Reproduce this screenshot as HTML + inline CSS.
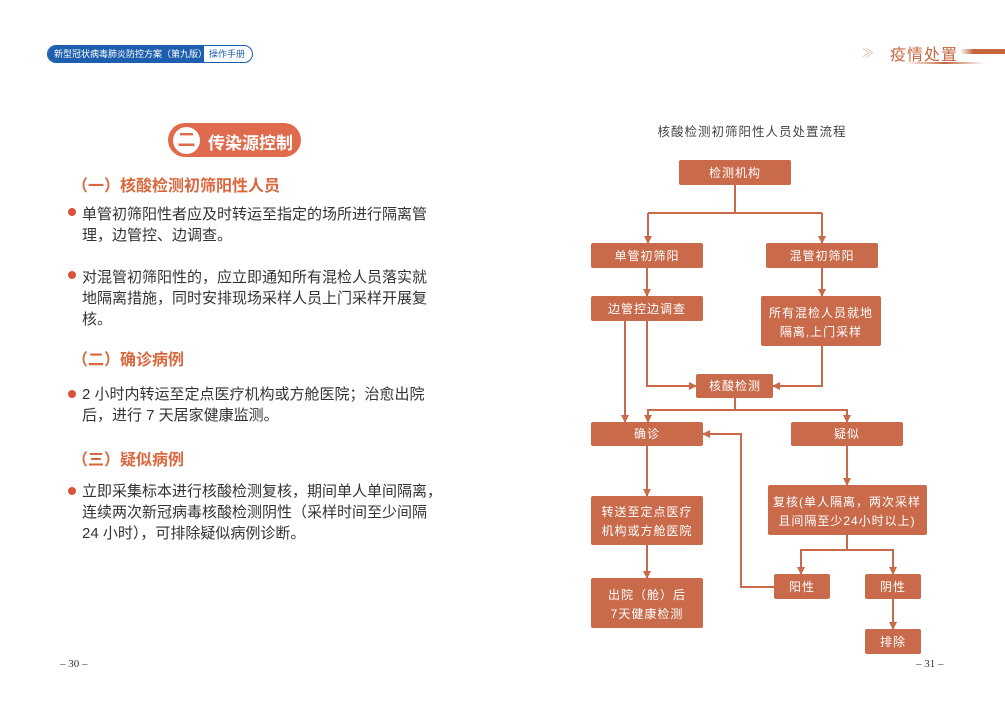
<!DOCTYPE html>
<html><head><meta charset="utf-8"><style>
body{margin:0;width:1005px;height:722px;background:#fff;position:relative;overflow:hidden;font-family:"Liberation Sans","Noto Sans CJK SC",sans-serif}
.a{position:absolute;white-space:nowrap}
.t{font-size:15px;color:#333;left:82px;letter-spacing:0}
.d{width:8px;height:8px;border-radius:50%;background:#d9533a;left:68px}
.h{font-size:16px;font-weight:bold;color:#d9683e;left:72px}
</style></head><body>
<div class="a" style="left:47px;top:45px;width:204px;height:16px;border:1px solid #1d5fae;border-radius:9px;overflow:hidden;font-size:9px;line-height:16px">
<span style="display:inline-block;background:#1d5fae;color:#fff;width:156px;padding-left:6px;box-sizing:border-box">新型冠状病毒肺炎防控方案（第九版）</span><span style="color:#1d5fae;padding-left:5px">操作手册</span></div>
<div class="a" style="left:862px;top:44px;font-size:12px;color:#e6b8a6">≫</div>
<div class="a" style="left:890px;top:41px;font-size:16px;color:#c4673f;letter-spacing:1px">疫情处置</div>
<div class="a" style="left:960px;top:49px;width:45px;height:5px;background:linear-gradient(90deg,#fff,#c4673f 30%)"></div>
<div class="a" style="left:905px;top:62px;width:80px;height:2px;background:linear-gradient(90deg,#fff,#c4673f,#fff)"></div>

<div class="a" style="left:168px;top:123px;width:133px;height:34px;border-radius:17px;background:#df6a4c"></div>
<div class="a" style="left:173px;top:127px;width:27px;height:27px;border-radius:50%;background:#fff;color:#df6a4c;font-weight:bold;font-size:18px;text-align:center;line-height:26px">二</div>
<div class="a" style="left:208px;top:129px;font-size:17px;font-weight:bold;color:#fff">传染源控制</div>

<div class="h a" style="top:172px">（一）核酸检测初筛阳性人员</div>
<div class="d a" style="top:208px"></div>
<div class="t a" style="top:203px">单管初筛阳性者应及时转运至指定的场所进行隔离管</div>
<div class="t a" style="top:224px">理，边管控、边调查。</div>
<div class="d a" style="top:271px"></div>
<div class="t a" style="top:266px">对混管初筛阳性的，应立即通知所有混检人员落实就</div>
<div class="t a" style="top:287px">地隔离措施，同时安排现场采样人员上门采样开展复</div>
<div class="t a" style="top:308px">核。</div>
<div class="h a" style="top:346px">（二）确诊病例</div>
<div class="d a" style="top:390px"></div>
<div class="t a" style="top:383px">2 小时内转运至定点医疗机构或方舱医院；治愈出院</div>
<div class="t a" style="top:404px">后，进行 7 天居家健康监测。</div>
<div class="h a" style="top:446px">（三）疑似病例</div>
<div class="d a" style="top:487px"></div>
<div class="t a" style="top:480px">立即采集标本进行核酸检测复核，期间单人单间隔离，</div>
<div class="t a" style="top:501px">连续两次新冠病毒核酸检测阴性（采样时间至少间隔</div>
<div class="t a" style="top:522px">24 小时），可排除疑似病例诊断。</div>
<div class="a" style="left:60px;top:658px;font-size:11px;color:#333;font-family:'Liberation Serif',serif">– 30 –</div>
<div class="a" style="left:916px;top:658px;font-size:11px;color:#333;font-family:'Liberation Serif',serif">– 31 –</div>

<svg class="a" style="left:0;top:0" width="1005" height="722">
<defs><marker id="m" markerWidth="8" markerHeight="8" refX="7" refY="4" orient="auto" markerUnits="userSpaceOnUse"><path d="M0,0L8,4L0,8z" fill="#c96a4a"/></marker></defs>
<text x="752" y="136" font-size="12.5" fill="#444" text-anchor="middle" font-family="Liberation Sans,Noto Sans CJK SC,sans-serif" letter-spacing="1">核酸检测初筛阳性人员处置流程</text>
<g stroke="#c96a4a" stroke-width="2" fill="none">
<path d="M735 185V213M648 213H822M648 213V243" marker-end="url(#m)"/>
<path d="M822 213V243" marker-end="url(#m)"/>
<path d="M647 268V296" marker-end="url(#m)"/>
<path d="M822 268V296" marker-end="url(#m)"/>
<path d="M625 321V422" marker-end="url(#m)"/>
<path d="M647 321V386H696" marker-end="url(#m)"/>
<path d="M822 346V386H773" marker-end="url(#m)"/>
<path d="M735 398V410H648V422" marker-end="url(#m)"/>
<path d="M735 410H847V422" marker-end="url(#m)"/>
<path d="M647 446V496" marker-end="url(#m)"/>
<path d="M647 545V578" marker-end="url(#m)"/>
<path d="M847 446V485" marker-end="url(#m)"/>
<path d="M847 535V550H801V574" marker-end="url(#m)"/>
<path d="M847 550H893V574" marker-end="url(#m)"/>
<path d="M893 599V629" marker-end="url(#m)"/>
<path d="M774 587H741V434H703" marker-end="url(#m)"/>
</g>
<g fill="#c96a4a">
<rect x="679" y="160" width="112" height="25" rx="2"/>
<rect x="591" y="243" width="112" height="25" rx="2"/>
<rect x="766" y="243" width="112" height="25" rx="2"/>
<rect x="591" y="296" width="112" height="25" rx="2"/>
<rect x="761" y="296" width="120" height="50" rx="2"/>
<rect x="696" y="374" width="77" height="24" rx="2"/>
<rect x="591" y="422" width="112" height="24" rx="2"/>
<rect x="791" y="422" width="112" height="24" rx="2"/>
<rect x="768" y="485" width="159" height="50" rx="2"/>
<rect x="591" y="496" width="112" height="49" rx="2"/>
<rect x="591" y="578" width="112" height="50" rx="2"/>
<rect x="774" y="574" width="56" height="25" rx="2"/>
<rect x="865" y="574" width="56" height="25" rx="2"/>
<rect x="865" y="629" width="56" height="25" rx="2"/>
</g>
<g fill="#fff" font-size="12" text-anchor="middle" font-family="Liberation Sans,Noto Sans CJK SC,sans-serif" letter-spacing="1">
<text x="735" y="177">检测机构</text>
<text x="647" y="260">单管初筛阳</text>
<text x="822" y="260">混管初筛阳</text>
<text x="647" y="313">边管控边调查</text>
<text x="821" y="317">所有混检人员就地</text>
<text x="821" y="336">隔离,上门采样</text>
<text x="735" y="390">核酸检测</text>
<text x="647" y="438">确诊</text>
<text x="847" y="438">疑似</text>
<text x="847" y="506">复核(单人隔离，两次采样</text>
<text x="847" y="525">且间隔至少24小时以上)</text>
<text x="647" y="516">转送至定点医疗</text>
<text x="647" y="535">机构或方舱医院</text>
<text x="647" y="599">出院（舱）后</text>
<text x="647" y="618">7天健康检测</text>
<text x="802" y="591">阳性</text>
<text x="893" y="591">阴性</text>
<text x="893" y="646">排除</text>
</g>
</svg>
</body></html>
